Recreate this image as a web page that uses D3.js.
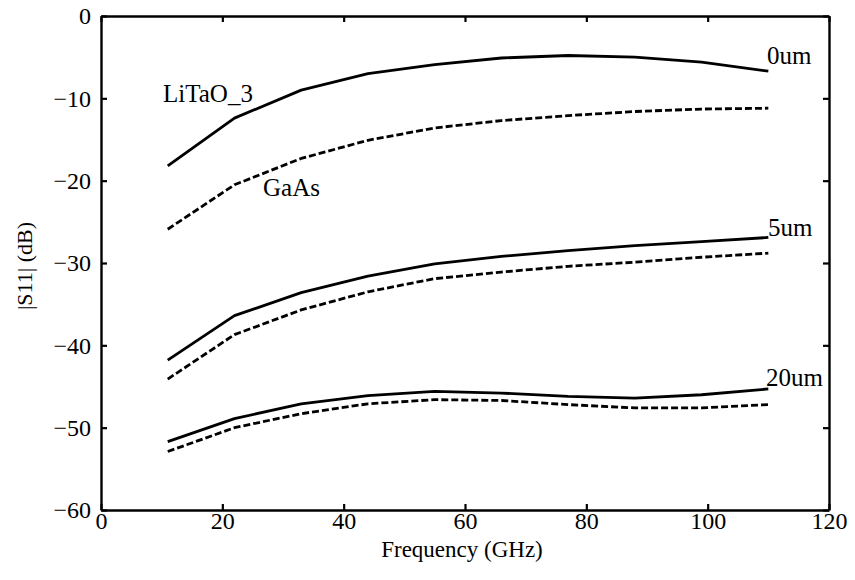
<!DOCTYPE html>
<html>
<head>
<meta charset="utf-8">
<script src="https://cdn.jsdelivr.net/npm/d3@7"></script>
<style>
  html, body { margin: 0; padding: 0; background: #fff; }
  svg { display: block; }
  svg text { font-family: "Liberation Serif", "DejaVu Serif", serif; }
</style>
</head>
<body>
<svg id="chart" width="855" height="580"></svg>
<script>
// Frequency sample points (GHz)
const freq = [11, 22, 33, 44, 55, 66, 77, 88, 99, 110];

// |S11| in dB for each spacing, LiTaO_3 (solid) and GaAs (dashed)
const litao0  = [-18.2, -12.4, -9.0, -7.0, -5.9, -5.1, -4.8, -5.0, -5.6, -6.7];
const gaas0   = [-25.9, -20.5, -17.3, -15.1, -13.6, -12.7, -12.1, -11.6, -11.3, -11.2];
const litao5  = [-41.8, -36.4, -33.6, -31.6, -30.1, -29.2, -28.5, -27.9, -27.4, -26.9];
const gaas5   = [-44.1, -38.7, -35.7, -33.5, -31.9, -31.1, -30.4, -29.9, -29.3, -28.8];
const litao20 = [-51.7, -48.9, -47.1, -46.1, -45.6, -45.8, -46.2, -46.4, -46.0, -45.3];
const gaas20  = [-52.9, -50.0, -48.3, -47.1, -46.6, -46.7, -47.2, -47.6, -47.6, -47.2];

const xTicks = [0, 20, 40, 60, 80, 100, 120];
const yTicks = [0, -10, -20, -30, -40, -50, -60];

const series = [
  { values: litao0,  dashed: false },
  { values: gaas0,   dashed: true  },
  { values: litao5,  dashed: false },
  { values: gaas5,   dashed: true  },
  { values: litao20, dashed: false },
  { values: gaas20,  dashed: true  }
];

(function () {
  const serif = '"Liberation Serif", "DejaVu Serif", serif';
  const svg = d3.select("#chart");
  const m = { left: 101, right: 829, top: 16, bottom: 510 };

  const x = d3.scaleLinear().domain([0, 120]).range([m.left, m.right]);
  const y = d3.scaleLinear().domain([-60, 0]).range([m.bottom, m.top]);

  const tickLen = 6;
  const fontSize = 24;

  // Frame: inward ticks on all four sides
  const axB = svg.append("g").attr("transform", `translate(0,${m.bottom})`)
    .call(d3.axisBottom(x).tickValues(xTicks).tickSizeInner(-tickLen).tickSizeOuter(0).tickPadding(2));
  const axT = svg.append("g").attr("transform", `translate(0,${m.top})`)
    .call(d3.axisTop(x).tickValues(xTicks).tickSizeInner(-tickLen).tickSizeOuter(0).tickFormat(""));
  const axL = svg.append("g").attr("transform", `translate(${m.left},0)`)
    .call(d3.axisLeft(y).tickValues(yTicks).tickSizeInner(-tickLen).tickSizeOuter(0).tickPadding(10));
  const axR = svg.append("g").attr("transform", `translate(${m.right},0)`)
    .call(d3.axisRight(y).tickValues(yTicks).tickSizeInner(-tickLen).tickSizeOuter(0).tickFormat(""));

  [axB, axT, axL, axR].forEach(g => {
    g.attr("font-family", serif).attr("font-size", fontSize);
    g.select(".domain").attr("stroke", "#000").attr("stroke-width", 2.4);
    g.selectAll(".tick line").attr("stroke", "#000").attr("stroke-width", 2.2);
    g.selectAll(".tick text")
      .attr("fill", "#000")
      .attr("font-family", serif)
      .attr("font-size", fontSize);
  });

  // Curves
  const line = d3.line()
    .x((d, i) => x(freq[i]))
    .y(d => y(d))
    .curve(d3.curveLinear);

  svg.append("g").selectAll("path")
    .data(series)
    .join("path")
    .attr("d", d => line(d.values))
    .attr("fill", "none")
    .attr("stroke", "#000")
    .attr("stroke-width", 2.8)
    .attr("stroke-linejoin", "round")
    .attr("stroke-dasharray", d => d.dashed ? "7,3" : null);

  // Annotations
  const notes = [
    { text: "0um",     x: 767, y: 64 },
    { text: "5um",     x: 768, y: 236 },
    { text: "20um",    x: 766, y: 386 },
    { text: "LiTaO_3", x: 163, y: 102 },
    { text: "GaAs",    x: 263, y: 196 }
  ];
  svg.append("g").selectAll("text")
    .data(notes)
    .join("text")
    .attr("x", d => d.x)
    .attr("y", d => d.y)
    .attr("font-family", serif)
    .attr("font-size", 25)
    .attr("fill", "#000")
    .text(d => d.text);

  // Axis titles
  svg.append("text")
    .attr("x", 462)
    .attr("y", 557)
    .attr("text-anchor", "middle")
    .attr("font-family", serif)
    .attr("font-size", 23)
    .attr("fill", "#000")
    .text("Frequency (GHz)");

  svg.append("text")
    .attr("transform", `translate(32,266) rotate(-90)`)
    .attr("text-anchor", "middle")
    .attr("font-family", serif)
    .attr("font-size", 22)
    .attr("fill", "#000")
    .text("|S11| (dB)");
})();
</script>
</body>
</html>
